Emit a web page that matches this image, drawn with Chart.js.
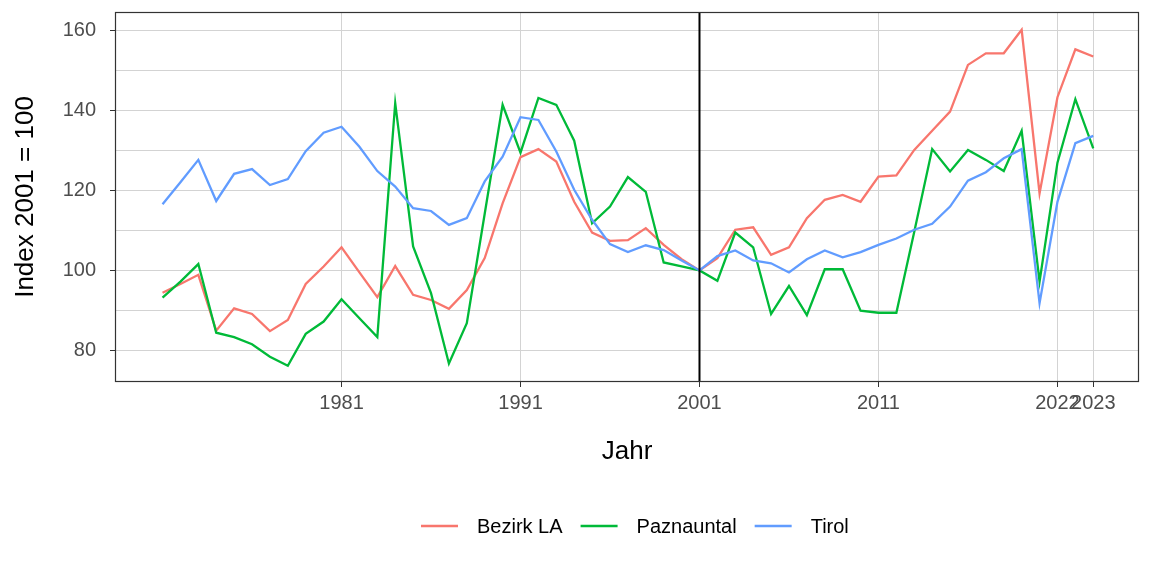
<!DOCTYPE html>
<html>
<head>
<meta charset="utf-8">
<script src="https://cdn.jsdelivr.net/npm/chart.js@4.4.1/dist/chart.umd.min.js"></script>
<style>
	html, body { margin: 0; padding: 0; background: #fff; }
	#wrap { width: 1152px; height: 576px; }
</style>
</head>
<body>
<div id="wrap"><canvas id="chart" width="1152" height="576"></canvas></div>
<script>
const years = [
	1971, 1972, 1973, 1974, 1975, 1976, 1977, 1978, 1979, 1980,
	1981, 1982, 1983, 1984, 1985, 1986, 1987, 1988, 1989, 1990,
	1991, 1992, 1993, 1994, 1995, 1996, 1997, 1998, 1999, 2000,
	2001, 2002, 2003, 2004, 2005, 2006, 2007, 2008, 2009, 2010,
	2011, 2012, 2013, 2014, 2015, 2016, 2017, 2018, 2019, 2020,
	2021, 2022, 2023,
]

const bezirkLA = [
	94.4, 96.6, 98.9, 84.9, 90.5, 89.1, 84.8, 87.6, 96.6, 101.0,
	105.8, 99.5, 93.3, 101.1, 93.9, 92.6, 90.4, 95.1, 103.1, 116.8,
	128.4, 130.4, 127.3, 117.2, 109.5, 107.4, 107.6, 110.6, 106.4, 102.8,
	100, 103.1, 110.2, 110.8, 103.9, 105.8, 113.1, 117.7, 118.9, 117.2,
	123.5, 123.8, 130.2, 135.0, 139.8, 151.5, 154.4, 154.4, 160.3, 119.3,
	143.4, 155.4, 153.6,
]

const paznauntal = [
	93.2, 97.2, 101.6, 84.4, 83.3, 81.5, 78.4, 76.1, 84.1, 87.2,
	92.8, 88.0, 83.3, 141.9, 106.0, 94.3, 76.7, 86.8, 114.2, 141.5,
	129.5, 143.2, 141.5, 132.5, 111.8, 116.0, 123.4, 119.7, 102.0, 101.0,
	100, 97.4, 109.5, 105.8, 89.1, 96.1, 88.8, 100.3, 100.3, 89.9,
	89.4, 89.4, 109.7, 130.4, 124.8, 130.2, 127.7, 124.9, 135.0, 97.2,
	127.0, 142.9, 130.6,
]

const tirol = [
	116.6, 122.1, 127.7, 117.4, 124.2, 125.4, 121.4, 122.9, 129.9, 134.5,
	136.0, 131.0, 124.9, 121.0, 115.6, 114.9, 111.4, 113.1, 122.3, 128.5,
	138.4, 137.7, 129.8, 120.2, 112.7, 106.6, 104.6, 106.3, 105.1, 102.5,
	100, 103.6, 105.0, 102.5, 101.8, 99.5, 102.8, 105.0, 103.3, 104.6,
	106.4, 108.0, 110.2, 111.7, 116.0, 122.5, 124.6, 128.1, 130.4, 91.8,
	117.2, 131.9, 133.7,
]

const seriesNames = ['Bezirk LA', 'Paznauntal', 'Tirol']
const seriesColors = ['#F8766D', '#00BA38', '#619CFF']

// x-Achse: Positionen und Beschriftungen wie im Original
const xTickValues = [1981, 1991, 2001, 2011, 2021, 2023]
const xTickLabels = ['1981', '1991', '2001', '2011', '2022', '2023']
const yTickValues = [80, 90, 100, 110, 120, 130, 140, 150, 160]
const baseYear = 2001

const FONT = "'Liberation Sans', Arial, sans-serif"

const toPoints = vals => years.map((yr, i) => ({ x: yr, y: vals[i] }))

const extras = {
	id: 'extras',
	afterDatasetsDraw(chart) {
		const { ctx, chartArea: a, scales: { x } } = chart
		const px = x.getPixelForValue(baseYear)
		ctx.save()
		ctx.strokeStyle = '#000'
		ctx.lineWidth = 2
		ctx.beginPath()
		ctx.moveTo(px, a.top)
		ctx.lineTo(px, a.bottom)
		ctx.stroke()
		ctx.strokeStyle = '#333'
		ctx.lineWidth = 1.2
		ctx.strokeRect(a.left - 0.5, a.top - 0.5, a.right - a.left + 1, a.bottom - a.top + 1)
		ctx.restore()
	},
	afterDraw(chart) {
		// Legende unten
		const { ctx } = chart
		ctx.save()
		ctx.font = `20px ${FONT}`
		ctx.textBaseline = 'middle'
		ctx.textAlign = 'left'
		let cx = 421
		const cy = 526
		seriesNames.forEach((name, i) => {
			ctx.strokeStyle = seriesColors[i]
			ctx.lineWidth = 2.3
			ctx.beginPath()
			ctx.moveTo(cx, cy)
			ctx.lineTo(cx + 37, cy)
			ctx.stroke()
			ctx.fillStyle = '#000'
			ctx.fillText(name, cx + 56, cy + 1.5)
			cx += 56 + ctx.measureText(name).width + 18
		})
		ctx.restore()
	},
}

const datasets = [bezirkLA, paznauntal, tirol].map((vals, i) => ({
	label: seriesNames[i],
	data: toPoints(vals),
	borderColor: seriesColors[i],
	backgroundColor: seriesColors[i],
	borderWidth: 2.3,
	pointRadius: 0,
	tension: 0,
	order: 2 - i,
}))

new Chart(document.getElementById('chart'), {
	type: 'line',
	data: { datasets },
	options: {
		responsive: false,
		animation: false,
		layout: { padding: { left: 0, top: 13, right: 14, bottom: 108.4 } },
		plugins: { legend: { display: false }, tooltip: { enabled: false } },
		scales: {
			x: {
				type: 'linear',
				min: 1968.4,
				max: 2025.5,
				afterBuildTicks: s => { s.ticks = xTickValues.map(v => ({ value: v })) },
				afterFit: s => {
					s.height = 86.6
					s.paddingLeft = 0
					s.paddingRight = 0
				},
				border: { display: false },
				grid: { color: '#d3d3d3', lineWidth: 1, tickLength: 6, tickColor: '#333' },
				ticks: {
					autoSkip: false,
					maxRotation: 0,
					padding: 4,
					color: '#4d4d4d',
					font: { family: FONT, size: 20 },
					callback: v => xTickLabels[xTickValues.indexOf(v)],
				},
				title: {
					display: true,
					text: 'Jahr',
					color: '#000',
					padding: 0,
					font: { family: FONT, size: 26 },
				},
			},
			y: {
				min: 72.3,
				max: 164.5,
				afterBuildTicks: s => { s.ticks = yTickValues.map(v => ({ value: v })) },
				afterFit: s => {
					s.width = 116
					s.paddingTop = 0
					s.paddingBottom = 0
				},
				border: { display: false },
				grid: {
					color: '#d3d3d3',
					lineWidth: 1,
					tickLength: 6,
					tickColor: c => (c.tick.value % 20 === 0 ? '#333' : 'rgba(0,0,0,0)'),
				},
				ticks: {
					padding: 14,
					color: '#4d4d4d',
					font: { family: FONT, size: 20 },
					callback: v => (v % 20 === 0 ? String(v) : ''),
				},
				title: {
					display: true,
					text: 'Index 2001 = 100',
					color: '#000',
					padding: { top: 10, bottom: 0 },
					font: { family: FONT, size: 26 },
				},
			},
		},
	},
	plugins: [extras],
})
</script>
</body>
</html>
